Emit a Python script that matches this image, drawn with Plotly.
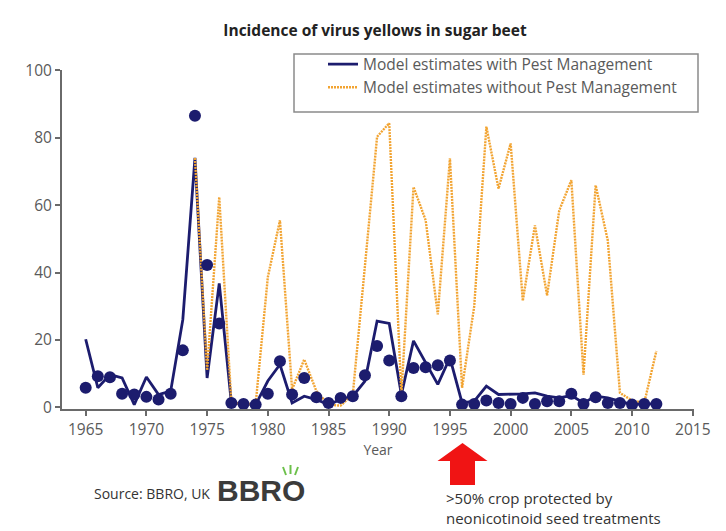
import plotly.graph_objects as go

years = list(range(1965, 2013))
with_pm = [20.2, 5.8, 9.7, 8.7, 0.8, 9.0, 3.8, 4.8, 26.0, 74.0,
           8.7, 36.8, 1.3, 1.0, 0.8, 7.8, 12.7, 1.3, 3.3, 2.3,
           0.8, 2.3, 3.3, 7.8, 25.6, 24.9, 3.8, 19.7, 13.2, 6.8,
           14.7, 1.3, 1.8, 6.3, 3.8, 3.8, 4.0, 4.3, 3.3, 2.8,
           3.5, 1.3, 3.3, 2.8, 1.8, 0.8, 1.0, 1.0]
years_no_pm = list(range(1974, 2013))
without_pm = [74.0, 11.0, 62.4, 1.3, 1.0, 1.0, 38.6, 55.5, 5.3, 14.2,
              4.8, 0.8, 0.5, 3.8, 42.0, 80.3, 84.3, 3.8, 65.4, 55.5,
              27.6, 73.9, 5.8, 30.0, 83.3, 64.9, 78.3, 31.6, 54.0, 33.2,
              58.4, 67.4, 9.7, 65.9, 49.5, 4.3, 2.0, 1.3, 16.7]
observed = [5.8, 9.2, 8.9, 4.0, 3.8, 3.1, 2.3, 4.0, 16.9, 86.5,
            42.2, 24.9, 1.3, 1.0, 0.8, 4.0, 13.7, 3.8, 8.7, 3.0,
            1.3, 2.8, 3.3, 9.5, 18.2, 13.9, 3.3, 11.7, 11.9, 12.5,
            13.9, 0.8, 1.0, 2.0, 1.3, 1.0, 2.8, 1.0, 1.8, 1.8,
            4.0, 1.0, 3.0, 1.3, 1.3, 0.8, 1.0, 1.0]
x_ticks = [1965, 1970, 1975, 1980, 1985, 1990, 1995, 2000, 2005, 2010, 2015]
y_ticks = [0, 20, 40, 60, 80, 100]

NAVY = "#1c1c6e"
ORANGE = "#f2a432"
GREY = "#5a5a5a"
FONT = "Open Sans"

W, H = 726, 531
L, R, T, B = 62, 694, 70, 409  # plot area in pixels


def px(x):
    return (x - L) / (R - L)


def py(y):
    return (B - y) / (B - T)


fig = go.Figure()
fig.add_trace(go.Scatter(x=years, y=with_pm, mode="lines",
                         name="Model estimates with Pest Management",
                         line=dict(color=NAVY, width=2.8), legendrank=1))
fig.add_trace(go.Scatter(x=years_no_pm, y=without_pm, mode="lines",
                         name="Model estimates without Pest Management",
                         line=dict(color=ORANGE, width=2.4, dash="2px,1px"), legendrank=2))
fig.add_trace(go.Scatter(x=years, y=observed, mode="markers", showlegend=False,
                         marker=dict(color=NAVY, size=12)))

shapes = [
    # legend box
    dict(type="rect", xref="paper", yref="paper", x0=px(294), x1=px(698), y0=py(112), y1=py(54),
         line=dict(color="#8a8a8a", width=1.5), fillcolor="rgba(0,0,0,0)", layer="below"),
    # red arrow
    dict(type="path", xref="paper", yref="paper",
         path=(f"M {px(462.5)} {py(443)} L {px(487.5)} {py(461)} L {px(475)} {py(461)} "
               f"L {px(475)} {py(485)} L {px(450)} {py(485)} L {px(450)} {py(461)} "
               f"L {px(437.5)} {py(461)} Z"),
         fillcolor="#f01414", line=dict(width=0)),
]
for (x0, y0, x1, y1) in [(286, 475, 283, 467), (290.5, 474, 290.5, 465), (295, 475, 298, 467)]:
    shapes.append(dict(type="line", xref="paper", yref="paper", x0=px(x0), y0=py(y0),
                       x1=px(x1), y1=py(y1), line=dict(color="#6cc04a", width=2)))

annotations = [
    dict(text="Source: BBRO, UK", xref="paper", yref="paper", x=px(212), y=py(494),
         xanchor="right", yanchor="middle", showarrow=False,
         font=dict(family=FONT, size=14, color="#333333")),
    dict(text="<b>BBRO</b>", xref="paper", yref="paper", x=px(215), y=py(490),
         xanchor="left", yanchor="middle", showarrow=False,
         font=dict(family="Liberation Sans, Arial, sans-serif", size=30, color="#3b3b3b")),
    dict(text=">50% crop protected by<br>neonicotinoid seed treatments", xref="paper", yref="paper",
         x=px(444), y=py(486), xanchor="left", yanchor="top", align="left", showarrow=False,
         font=dict(family=FONT, size=15, color="#333333")),
]

fig.update_layout(
    width=W, height=H,
    margin=dict(l=L, r=W - R, t=T, b=H - B, pad=0),
    paper_bgcolor="white", plot_bgcolor="white",
    font=dict(family=FONT, color=GREY),
    title=dict(text="<b>Incidence of virus yellows in sugar beet</b>", x=375 / W, xanchor="center",
               y=1 - 31 / H, yanchor="middle", font=dict(family=FONT, size=15.5, color="#222222")),
    legend=dict(x=px(323), y=py(47.5), xanchor="left", yanchor="top",
                bgcolor="rgba(0,0,0,0)", borderwidth=0,
                font=dict(family=FONT, size=15.5, color=GREY), tracegroupgap=0),
    xaxis=dict(range=[1963.05, 2015.1], tickvals=x_ticks, showgrid=False, zeroline=False,
               showline=True, linecolor="#6a6a6a", linewidth=2, ticks="outside", ticklen=5,
               tickwidth=2, tickcolor="#6a6a6a", tickfont=dict(family=FONT, size=15.5, color=GREY),
               title=dict(text="Year", font=dict(family=FONT, size=14, color=GREY), standoff=2)),
    yaxis=dict(range=[-0.5, 100.1], tickvals=y_ticks, showgrid=False, zeroline=False,
               showline=True, linecolor="#6a6a6a", linewidth=2, ticks="outside", ticklen=5,
               tickwidth=2, tickcolor="#6a6a6a", tickfont=dict(family=FONT, size=15.5, color=GREY)),
    shapes=shapes, annotations=annotations,
)

fig.write_html("out.html", config={"displayModeBar": False},
               post_script="document.body.style.margin='0';document.body.style.overflow='hidden';")
